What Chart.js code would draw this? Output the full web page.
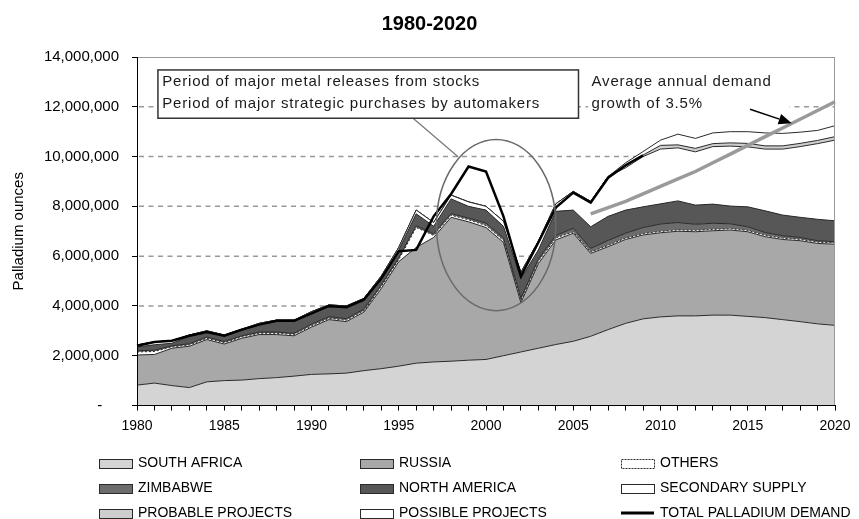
<!DOCTYPE html>
<html>
<head>
<meta charset="utf-8">
<script src="https://cdn.jsdelivr.net/npm/chart.js@4.4.0/dist/chart.umd.min.js"></script>
<style>
  html, body { margin: 0; padding: 0; background: #ffffff; }
  #wrap { position: relative; width: 859px; height: 519px; }
</style>
</head>
<body>
<div id="wrap"><canvas id="c" width="859" height="519"></canvas></div>
<script>
// ---------- DATA (ounces) ----------
const years = [1980,1981,1982,1983,1984,1985,1986,1987,1988,1989,
               1990,1991,1992,1993,1994,1995,1996,1997,1998,1999,
               2000,2001,2002,2003,2004,2005,2006,2007,2008,2009,
               2010,2011,2012,2013,2014,2015,2016,2017,2018,2019,2020];

const seriesNames = ['SOUTH AFRICA','RUSSIA','OTHERS','ZIMBABWE','NORTH AMERICA',
                     'SECONDARY SUPPLY','PROBABLE PROJECTS','POSSIBLE PROJECTS','TOTAL PALLADIUM DEMAND'];

const southAfrica = [820000,900000,800000,720000,950000,1000000,1020000,1080000,1120000,1180000,
                     1250000,1270000,1300000,1400000,1480000,1580000,1700000,1750000,1780000,1820000,
                     1850000,2000000,2150000,2300000,2450000,2580000,2780000,3050000,3300000,3480000,
                     3560000,3600000,3600000,3630000,3630000,3580000,3530000,3450000,3370000,3280000,3220000];

const russia = [1210000,1150000,1500000,1660000,1700000,1470000,1680000,1770000,1730000,1620000,
                1900000,2180000,2070000,2350000,3220000,4200000,4650000,5000000,5780000,5560000,
                5300000,4550000,1980000,3400000,4200000,4340000,3330000,3330000,3370000,3370000,
                3380000,3400000,3380000,3390000,3420000,3400000,3250000,3220000,3250000,3230000,3260000];

const others = [120000,120000,50000,50000,50000,50000,50000,50000,50000,50000,
                50000,50000,50000,50000,80000,80000,800000,80000,80000,80000,
                80000,80000,80000,80000,80000,50000,50000,50000,50000,50000,
                50000,50000,50000,50000,50000,50000,50000,50000,50000,50000,50000];

const zimbabwe = [50000,50000,50000,50000,50000,50000,50000,50000,50000,50000,
                  70000,70000,70000,70000,70000,70000,70000,70000,70000,70000,
                  100000,100000,100000,100000,100000,150000,150000,200000,200000,250000,
                  300000,300000,250000,250000,200000,150000,120000,100000,80000,60000,50000];

const northAmerica = [150000,220000,100000,300000,200000,210000,210000,300000,430000,480000,
                      430000,400000,440000,360000,250000,320000,480000,300000,590000,470000,
                      520000,470000,790000,370000,970000,730000,870000,970000,930000,830000,
                      810000,870000,770000,770000,710000,800000,870000,830000,810000,860000,840000];

const secondarySupply = [80000,120000,100000,50000,50000,50000,50000,50000,50000,50000,
                         70000,70000,70000,70000,100000,100000,150000,150000,150000,180000,
                         150000,200000,250000,350000,300000,750000,1020000,1600000,1700000,2020000,
                         2200000,2130000,2140000,2310000,2410000,2410000,2480000,2650000,2840000,3040000,3240000];

const probableProjects = [0,0,0,0,0,0,0,0,0,0,
                          0,0,0,0,0,0,0,0,0,0,
                          0,0,0,0,0,0,0,0,70000,60000,
                          150000,120000,140000,120000,130000,140000,130000,130000,130000,130000,140000];

const possibleProjects = [0,0,0,0,0,0,0,0,0,0,
                          0,0,0,0,0,0,0,0,0,0,
                          0,0,0,0,0,0,0,0,130000,140000,
                          210000,430000,400000,430000,450000,470000,520000,500000,450000,400000,440000];

const totalDemand = [2400000,2550000,2600000,2800000,2950000,2800000,3050000,3250000,3400000,3400000,
                     3700000,4000000,3950000,4250000,5100000,6200000,6250000,7600000,8500000,9600000,
                     9400000,7600000,5200000,6550000,7950000,8550000,8150000,9150000,9650000,10050000,
                     null,null,null,null,null,null,null,null,null,null,null];

const demandGrowth = [null,null,null,null,null,null,null,null,null,null,
                      null,null,null,null,null,null,null,null,null,null,
                      null,null,null,null,null,null,7700000,7950000,8200000,8500000,
                      8800000,9100000,9400000,9750000,10100000,10450000,10800000,11150000,11500000,11850000,12200000];

const yTicksMax = 14000000;
const yTickStep = 2000000;

// ---------- STYLES ----------
const FONT = "'Liberation Sans', Arial, sans-serif";
const areaSeries = [southAfrica, russia, others, zimbabwe, northAmerica, secondarySupply, probableProjects, possibleProjects];
const areaStyles = [
  { bg: '#d4d4d4' },
  { bg: '#a8a8a8' },
  { bg: '#ffffff', dash: [2, 2] },
  { bg: '#6c6c6c' },
  { bg: '#575757' },
  { bg: '#ffffff' },
  { bg: '#cecece' },
  { bg: '#ffffff' }
];

const datasets = areaSeries.map((data, i) => ({
  type: 'line',
  label: seriesNames[i],
  data: data,
  stack: 'supply',
  fill: i === 0 ? 'origin' : '-1',
  backgroundColor: areaStyles[i].bg,
  borderColor: '#2a2a2a',
  borderWidth: 1,
  borderDash: areaStyles[i].dash || [],
  pointRadius: 0,
  tension: 0
}));
datasets.push({
  type: 'line', label: seriesNames[8], data: totalDemand, stack: 'demand', fill: false,
  borderColor: '#000000', borderWidth: 2.5, pointRadius: 0, tension: 0, order: -2
});
datasets.push({
  type: 'line', label: 'growth', data: demandGrowth, stack: 'growth', fill: false,
  borderColor: '#9a9a9a', borderWidth: 3.5, pointRadius: 0, tension: 0, order: -1
});

// ---------- ANNOTATIONS (data units) ----------
const notes = {
  box: { x1: 1981.2, x2: 2005.3, yTop: 13480000, yBot: 11540000 },
  boxLines: ['Period of major metal releases from stocks', 'Period of major strategic purchases by automakers'],
  boxTextX: 1981.45,
  lineY: [13010000, 12110000],
  growthLines: ['Average annual demand', 'growth of 3.5%'],
  growthX: 2006.05,
  growthBg: { x1: 2005.85, x2: 2017.4 },
  leader: [[1995.82, 11540000], [1998.4, 9990000]],
  ellipse: { cx: 2000.58, cy: 7250000, rx: 3.42, ry: 3440000 },
  arrow: [[2015.13, 11900000], [2017.52, 11340000]]
};

const legendLayout = { cols: [99, 360, 621], rows: [463, 488, 513], w: 33, h: 9, gap: 6 };
const gridStyle = { color: '#999999', width: 1.5, dash: [5, 4.5] };

const decor = {
  id: 'decor',
  beforeDatasetsDraw(chart) {
    // dashed horizontal gridlines at the y scale ticks (behind the areas)
    const { ctx, chartArea: a } = chart;
    const ys = chart.scales.y;
    ctx.save();
    ctx.strokeStyle = gridStyle.color;
    ctx.lineWidth = gridStyle.width;
    ctx.setLineDash(gridStyle.dash);
    ys.ticks.forEach(t => {
      if (t.value <= ys.min || t.value >= ys.max) return;
      const py = ys.getPixelForValue(t.value);
      ctx.beginPath();
      ctx.moveTo(a.left + 2, py);
      ctx.lineTo(a.right, py);
      ctx.stroke();
    });
    ctx.restore();
  },
  afterDatasetsDraw(chart) {
    const { ctx, chartArea: a } = chart;
    ctx.save();
    ctx.strokeStyle = '#999999';
    ctx.lineWidth = 1;
    ctx.beginPath();
    ctx.moveTo(a.left, Math.round(a.top) + 0.5);
    ctx.lineTo(a.right, Math.round(a.top) + 0.5);
    ctx.moveTo(Math.round(a.right) - 0.5, a.top);
    ctx.lineTo(Math.round(a.right) - 0.5, a.bottom);
    ctx.stroke();
    ctx.restore();
  },
  afterDraw(chart) {
    const { ctx } = chart;
    const xs = chart.scales.x, ys = chart.scales.y;
    const X = yr => xs.getPixelForValue(yr - years[0]);
    const Y = v => ys.getPixelForValue(v);
    ctx.save();

    // leader line
    ctx.strokeStyle = '#777777';
    ctx.lineWidth = 1.2;
    ctx.beginPath();
    ctx.moveTo(X(notes.leader[0][0]), Y(notes.leader[0][1]));
    ctx.lineTo(X(notes.leader[1][0]), Y(notes.leader[1][1]));
    ctx.stroke();

    // ellipse
    const e = notes.ellipse;
    const cx = X(e.cx), cy = Y(e.cy);
    const rx = X(e.cx + e.rx) - cx, ry = Y(e.cy - e.ry) - cy;
    ctx.strokeStyle = '#6a6a6a';
    ctx.lineWidth = 1.5;
    ctx.beginPath();
    ctx.ellipse(cx, cy, rx, ry, 0, 0, Math.PI * 2);
    ctx.stroke();

    // box
    const b = notes.box;
    const bx = X(b.x1), by = Y(b.yTop), bw = X(b.x2) - bx, bh = Y(b.yBot) - by;
    ctx.fillStyle = '#ffffff';
    ctx.fillRect(bx, by, bw, bh);
    ctx.strokeStyle = '#333333';
    ctx.lineWidth = 1.5;
    ctx.strokeRect(bx, by, bw, bh);

    // growth text background
    const g = notes.growthBg;
    ctx.fillStyle = '#ffffff';
    ctx.fillRect(X(g.x1), by - 1, X(g.x2) - X(g.x1), bh + 2);

    // texts
    ctx.fillStyle = '#1a1a1a';
    ctx.font = '15px ' + FONT;
    ctx.textBaseline = 'middle';
    ctx.textAlign = 'left';
    try { ctx.letterSpacing = '0.8px'; } catch (err) {}
    notes.boxLines.forEach((t, i) => ctx.fillText(t, X(notes.boxTextX), Y(notes.lineY[i])));
    notes.growthLines.forEach((t, i) => ctx.fillText(t, X(notes.growthX), Y(notes.lineY[i])));
    try { ctx.letterSpacing = '0px'; } catch (err) {}

    // arrow
    const p1 = [X(notes.arrow[0][0]), Y(notes.arrow[0][1])];
    const p2 = [X(notes.arrow[1][0]), Y(notes.arrow[1][1])];
    const ang = Math.atan2(p2[1] - p1[1], p2[0] - p1[0]);
    const hl = 13, hw = 5.5;
    const bxp = p2[0] - hl * Math.cos(ang), byp = p2[1] - hl * Math.sin(ang);
    ctx.strokeStyle = '#000000';
    ctx.lineWidth = 1.5;
    ctx.beginPath();
    ctx.moveTo(p1[0], p1[1]);
    ctx.lineTo(bxp, byp);
    ctx.stroke();
    ctx.fillStyle = '#000000';
    ctx.beginPath();
    ctx.moveTo(p2[0], p2[1]);
    ctx.lineTo(bxp + hw * Math.sin(ang), byp - hw * Math.cos(ang));
    ctx.lineTo(bxp - hw * Math.sin(ang), byp + hw * Math.cos(ang));
    ctx.closePath();
    ctx.fill();

    // legend
    const L = legendLayout;
    ctx.font = '14px ' + FONT;
    ctx.textBaseline = 'middle';
    for (let i = 0; i < 9; i++) {
      const ds = chart.data.datasets[i];
      const x = L.cols[i % 3], yc = L.rows[Math.floor(i / 3)];
      if (i < 8) {
        const top = Math.round(yc - L.h / 2) + 0.5;
        ctx.fillStyle = ds.backgroundColor;
        ctx.fillRect(x + 0.5, top, L.w, L.h);
        ctx.strokeStyle = '#2a2a2a';
        ctx.lineWidth = 1;
        ctx.setLineDash(ds.borderDash && ds.borderDash.length ? [2, 1] : []);
        ctx.strokeRect(x + 0.5, top, L.w, L.h);
        ctx.setLineDash([]);
      } else {
        ctx.strokeStyle = '#000000';
        ctx.lineWidth = 3;
        ctx.beginPath();
        ctx.moveTo(x, yc);
        ctx.lineTo(x + L.w, yc);
        ctx.stroke();
      }
      ctx.fillStyle = '#000000';
      ctx.fillText(ds.label, x + L.w + L.gap, yc);
    }
    ctx.restore();
  }
};

new Chart(document.getElementById('c'), {
  type: 'line',
  data: { labels: years.map(String), datasets: datasets },
  options: {
    responsive: false,
    animation: false,
    layout: { padding: { left: 0, right: 0, top: 0, bottom: 83.5 } },
    plugins: {
      legend: { display: false },
      tooltip: { enabled: false },
      title: {
        display: true, text: '1980-2020', color: '#000000',
        font: { family: FONT, size: 20, weight: 'bold' },
        padding: { top: 12, bottom: 21 }
      }
    },
    scales: {
      x: {
        type: 'category', offset: false,
        afterFit: s => { s.height = 30; },
        grid: { display: true, drawOnChartArea: false, drawTicks: true, tickLength: 5, tickColor: '#000000' },
        border: { color: '#000000', width: 1, z: 1 },
        ticks: {
          autoSkip: false, maxRotation: 0, minRotation: 0, padding: 7, color: '#000000',
          font: { family: FONT, size: 14 },
          callback: (v, i) => (years[i] % 5 === 0 ? String(years[i]) : '')
        }
      },
      y: {
        stacked: true, min: 0, max: yTicksMax,
        afterFit: s => { s.width = 137; },
        ticks: {
          stepSize: yTickStep, padding: 13, color: '#000000',
          font: { family: FONT, size: 15 },
          callback: v => (v === 0 ? '-    ' : Number(v).toLocaleString('en-US'))
        },
        grid: { drawOnChartArea: false, drawTicks: true, tickColor: '#000000', tickLength: 5, lineWidth: 1 },
        border: { color: '#000000', width: 1, z: 1 },
        title: {
          display: true, text: 'Palladium ounces', color: '#000000',
          font: { family: FONT, size: 15 }, padding: { top: 10, bottom: 0 }
        }
      },
      yR: {
        position: 'right', display: true,
        afterFit: s => { s.width = 24; },
        grid: { display: false, drawTicks: false },
        border: { display: false },
        ticks: { display: false }
      }
    }
  },
  plugins: [decor]
});
</script>
</body>
</html>
